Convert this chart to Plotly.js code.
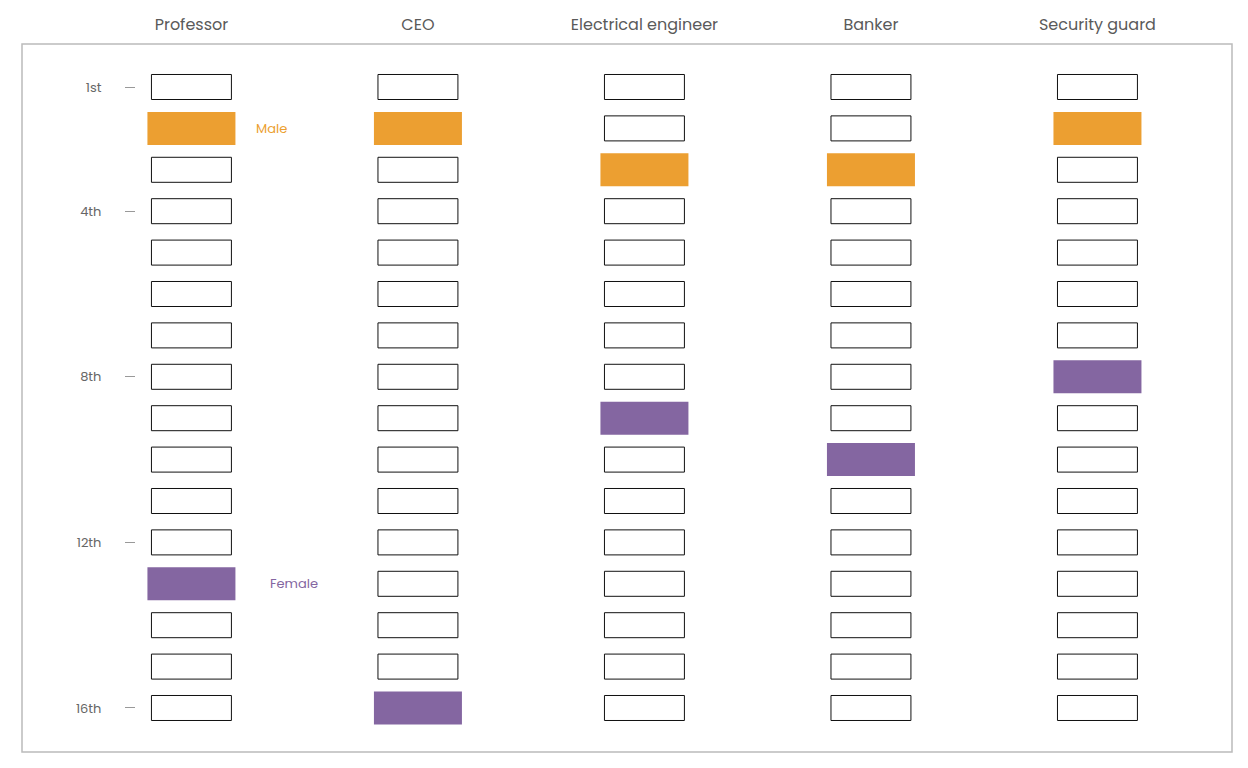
<!DOCTYPE html>
<html><head><meta charset="utf-8">
<script src="https://cdn.plot.ly/plotly-3.0.1.min.js"></script>
<style>body{margin:0;background:#fff}#chart{width:1248px;height:768px}</style>
</head><body><div id="chart"></div>
<script>
const occupations = ["Professor", "CEO", "Electrical engineer", "Banker", "Security guard"];
const ranks = [1,2,3,4,5,6,7,8,9,10,11,12,13,14,15,16];
const maleRank = [2, 2, 3, 3, 2];
const femaleRank = [13, 16, 9, 10, 8];
const rankTickVals = [1, 4, 8, 12, 16];
const rankTickText = ["1st", "4th", "8th", "12th", "16th"];

const FONT = "Poppins, Inter, 'Open Sans', sans-serif";
const cellH = 0.604, cellW = 0.353;
const fillH = 0.797, fillW = 0.3885;

const ox = [], oy = [], ob = [];
occupations.forEach((o, i) => ranks.forEach(r => { ox.push(i); oy.push(cellH); ob.push(r - cellH / 2); }));

const traces = [
  {type: 'bar', x: ox, y: oy, base: ob, width: cellW, yaxis: 'y',
   marker: {color: '#ffffff', line: {color: '#111111', width: 1}}, hoverinfo: 'skip', showlegend: false},
  {type: 'bar', x: occupations.map((o, i) => i), y: maleRank.map(() => fillH), base: maleRank.map(r => r - fillH / 2),
   width: fillW, marker: {color: '#EC9F31', line: {width: 0}}, name: 'Male', showlegend: false},
  {type: 'bar', x: occupations.map((o, i) => i), y: femaleRank.map(() => fillH), base: femaleRank.map(r => r - fillH / 2),
   width: fillW, marker: {color: '#8466A1', line: {width: 0}}, name: 'Female', showlegend: false}
];

const layout = {
  width: 1248, height: 768,
  margin: {l: 22, r: 16, t: 44, b: 16},
  paper_bgcolor: '#ffffff', plot_bgcolor: '#ffffff',
  barmode: 'overlay',
  font: {family: FONT, color: '#555'},
  xaxis: {range: [-0.748, 4.594], side: 'top', tickvals: occupations.map((o, i) => i), ticktext: occupations,
    showgrid: false, zeroline: false, showline: false, ticks: '', ticklabelstandoff: 10,
    tickfont: {family: FONT, size: 16, color: '#5a5a5a'}, fixedrange: true},
  yaxis: {range: [17.063, -0.0386], anchor: 'free', position: 0.0934, tickvals: rankTickVals, ticktext: rankTickText,
    showgrid: false, zeroline: false, showline: false, ticks: 'outside', ticklen: 10, tickcolor: '#999', tickwidth: 1,
    ticklabelstandoff: 21, tickfont: {family: FONT, size: 13, color: '#666'}, fixedrange: true},
  shapes: [{type: 'rect', xref: 'paper', yref: 'paper', x0: 0, x1: 1, y0: 0, y1: 1,
    line: {color: '#bbbbbb', width: 1.5}, fillcolor: 'rgba(0,0,0,0)', layer: 'below'}],
  annotations: [
    {x: 0.278, y: maleRank[0], xref: 'x', yref: 'y', text: 'Male', showarrow: false, xanchor: 'left',
     font: {family: FONT, size: 13, color: '#EC9F31'}},
    {x: 0.340, y: femaleRank[0], xref: 'x', yref: 'y', text: 'Female', showarrow: false, xanchor: 'left',
     font: {family: FONT, size: 13, color: '#8466A1'}}
  ]
};
Plotly.newPlot('chart', traces, layout, {displayModeBar: false, staticPlot: true});
</script></body></html>
